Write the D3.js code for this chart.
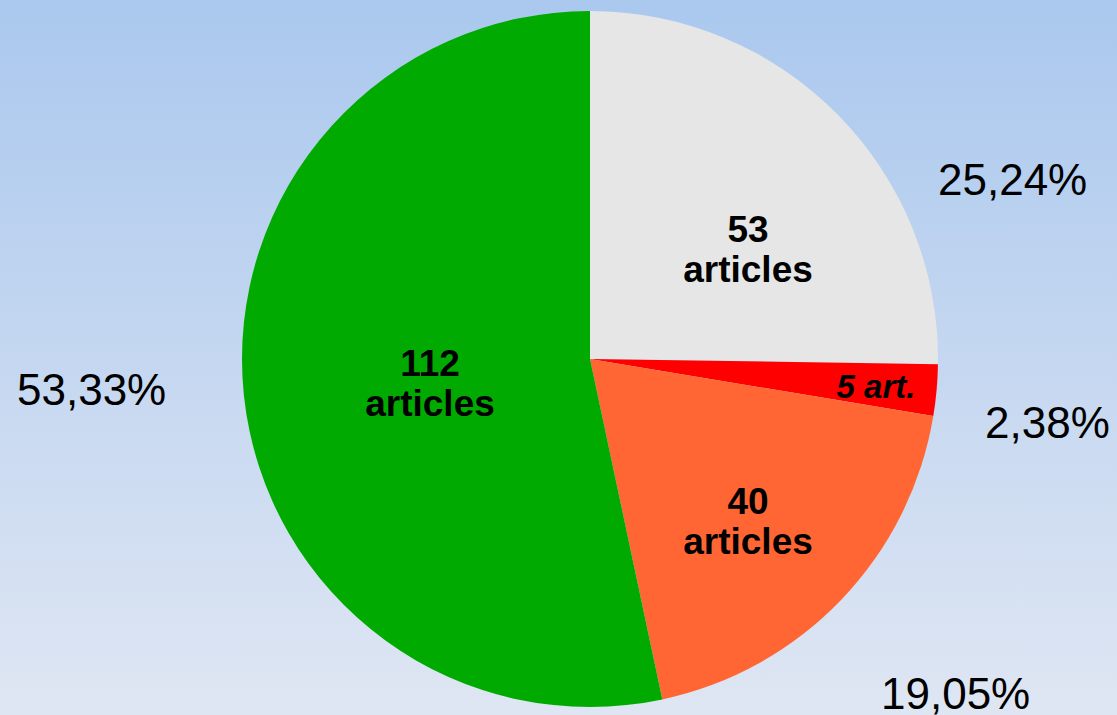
<!DOCTYPE html>
<html>
<head>
<meta charset="utf-8">
<script src="https://cdn.jsdelivr.net/npm/d3@7"></script>
<style>
  body { margin: 0; overflow: hidden; }
  svg { display: block; font-family: "Liberation Sans", Arial, sans-serif; }
</style>
</head>
<body>
<div id="graph"></div>
<script>
// données
var categories = ["53 articles", "5 art.", "40 articles", "112 articles"];
var valeurs = [53, 5, 40, 112];
var pourcentages = ["25,24%", "2,38%", "19,05%", "53,33%"];
var couleurs = ["#e6e6e6", "#ff0000", "#ff6633", "#00aa00"];

// placement des étiquettes (décalage par rapport au centre)
var posInterne = [[158, -97], [286, 39], [158, 175], [-160, 37]];
var posExterne = [[348, -164], [395, 79], [291, 350], [-573, 46]];

var totalWidth = 1117, totalHeight = 715,
    cx = 590, cy = 359, rayon = 348;

var svg = d3.select("#graph").append("svg")
    .attr("width", totalWidth)
    .attr("height", totalHeight);

// fond dégradé
var grad = svg.append("defs").append("linearGradient")
    .attr("id", "fond")
    .attr("x1", 0).attr("y1", 0).attr("x2", 0).attr("y2", 1);
grad.append("stop").attr("offset", "0%").attr("stop-color", "#aac8ee");
grad.append("stop").attr("offset", "100%").attr("stop-color", "#dfe6f3");
svg.append("rect")
    .attr("width", totalWidth)
    .attr("height", totalHeight)
    .attr("fill", "url(#fond)");

var g = svg.append("g")
    .attr("transform", "translate(" + cx + "," + cy + ")");

var pie = d3.pie().sort(null).value(function(d) { return d; });
var arc = d3.arc().innerRadius(0).outerRadius(rayon);
var parts = pie(valeurs);

g.selectAll("path.part")
    .data(parts)
    .enter().append("path")
    .attr("class", "part")
    .attr("d", arc)
    .attr("fill", function(d, i) { return couleurs[i]; });

// étiquettes internes (deux lignes sauf la petite part)
parts.forEach(function(d, i) {
    var court = valeurs[i] < 10;
    var mots = court ? [categories[i]] : categories[i].split(" ");
    var t = g.append("text")
        .attr("text-anchor", "middle")
        .attr("font-weight", "bold")
        .attr("font-size", court ? "33px" : "37px")
        .attr("font-style", court ? "italic" : "normal")
        .attr("fill", "#000");
    mots.forEach(function(m, j) {
        t.append("tspan")
            .attr("x", posInterne[i][0])
            .attr("y", posInterne[i][1] + (mots.length > 1 ? -20 + j * 40 : 0))
            .text(m);
    });
});

// pourcentages
parts.forEach(function(d, i) {
    g.append("text")
        .attr("x", posExterne[i][0])
        .attr("y", posExterne[i][1])
        .attr("font-size", "44px")
        .attr("fill", "#000")
        .text(pourcentages[i]);
});
</script>
</body>
</html>
